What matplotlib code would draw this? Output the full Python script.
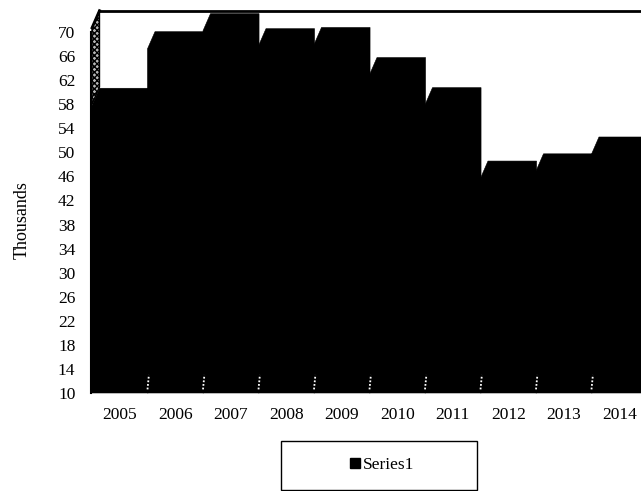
import matplotlib
matplotlib.use("Agg")
import matplotlib.pyplot as plt
from matplotlib.patches import Polygon, Rectangle, Patch

years = [2005, 2006, 2007, 2008, 2009, 2010, 2011, 2012, 2013, 2014]
values = [57.8, 67.2, 70.2, 67.7, 67.9, 62.9, 57.9, 45.7, 46.9, 49.7]
yticks = list(range(10, 71, 4))

plt.rcParams['font.family'] = ['Liberation Serif', 'DejaVu Serif']

W, H = 641, 491
fig = plt.figure(figsize=(W / 100, H / 100), dpi=100)

# front plane of the fake 3d chart, in pixels
left, right, bottom, top = 92, 647, 393, 32
ax = fig.add_axes([left / W, 1 - bottom / H, (right - left) / W, (bottom - top) / H])
ax.set_xlim(-0.5, 9.5)
ax.set_ylim(10, 70)
ax.patch.set_visible(False)

# depth of the 3d effect in data units
dx = 0.135
dy = 2.85

x = list(range(len(years)))
for i, v in zip(x, values):
    x0, x1 = i - 0.5, i + 0.5
    # right side face is not visible in the scan, top edge stops at the bar end
    outline = [(x0, 10), (x0, v), (x0 + dx, v + dy), (x1 + 0.01, v + dy), (x1 + 0.01, 10)]
    ax.add_patch(Polygon(outline, facecolor="black", edgecolor="black", lw=0.4, zorder=3, clip_on=False))
    # little specks left where the bars meet at the base
    if i < 9:
        ax.plot([x1, x1 + 0.025], [10.6, 13], color="white", lw=1.3, ls=(0, (1, 1)), zorder=4)

# back wall: left strip and top edge
ymax = 70.7
wall = [(-0.5, 58), (-0.5 + dx, 58 + dy), (-0.5 + dx, ymax + dy), (-0.5, ymax)]
ax.add_patch(Polygon(wall, facecolor="#b8b8b8", edgecolor="black", hatch="xxxxxx", lw=1.0, zorder=2, clip_on=False))
ax.plot([-0.5 + dx, 9.6], [ymax + dy, ymax + dy], color="black", lw=2, clip_on=False, zorder=2)
ax.plot([-0.5 + dx, -0.5], [ymax + dy, ymax], color="black", lw=2, clip_on=False, zorder=2)

for s in ["top", "right", "bottom"]:
    ax.spines[s].set_visible(False)
ax.spines["left"].set_linewidth(1.5)
ax.spines["left"].set_position(("outward", 1))
ax.spines["left"].set_zorder(5)

ax.set_xticks(x)
ax.set_xticklabels(years)
ax.set_yticks(yticks)
ax.tick_params(axis="both", length=0, labelsize=12.5)
ax.tick_params(axis="x", pad=10)
ax.tick_params(axis="y", pad=11)

fig.text(22 / W, 1 - 220 / H, "Thousands", rotation=90, ha="center", va="center", fontsize=13)

# legend box runs off the bottom of the page
fig.add_artist(Rectangle((281 / W, 1 - 490 / H), 196 / W, 49 / H, transform=fig.transFigure,
                         facecolor="white", edgecolor="black", lw=1))
fig.legend(handles=[Patch(color="black", label="Series1")], loc="center",
           bbox_to_anchor=(382 / W, 1 - 465 / H), frameon=False, fontsize=12.5,
           handlelength=0.55, handleheight=0.55, handletextpad=0.15)

fig.savefig("out.png", dpi=100)
